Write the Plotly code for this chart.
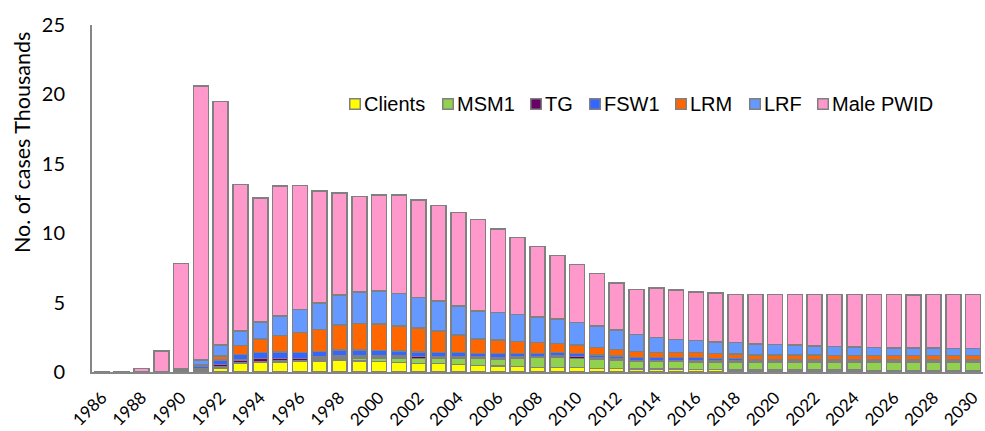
import plotly.graph_objects as go

years = list(range(1986, 2031))

clients = [0, 0, 0, 0, 0.02, 0.1, 0.3, 0.6, 0.72, 0.72,
           0.74, 0.8, 0.85, 0.8, 0.75, 0.7, 0.62, 0.62, 0.55, 0.48,
           0.45, 0.38, 0.34, 0.34, 0.31, 0.26, 0.24, 0.22, 0.22, 0.2,
           0.19, 0.17, 0.15, 0.15, 0.14, 0.14, 0.13, 0.13, 0.13, 0.12,
           0.12, 0.12, 0.12, 0.12, 0.12]
msm1 = [0, 0, 0, 0, 0.01, 0.05, 0.05, 0.05, 0.05, 0.06,
        0.1, 0.12, 0.15, 0.2, 0.25, 0.3, 0.35, 0.35, 0.45, 0.5,
        0.5, 0.6, 0.69, 0.69, 0.67, 0.67, 0.62, 0.52, 0.52, 0.54,
        0.51, 0.53, 0.55, 0.55, 0.56, 0.56, 0.57, 0.54, 0.54, 0.55,
        0.55, 0.55, 0.55, 0.55, 0.55]
tg = [0, 0, 0, 0, 0.01, 0.05, 0.2, 0.2, 0.2, 0.2,
      0.15, 0.15, 0.15, 0.15, 0.15, 0.15, 0.15, 0.12, 0.1, 0.1,
      0.1, 0.1, 0.1, 0.12, 0.12, 0.1, 0.1, 0.1, 0.1, 0.1,
      0.1, 0.1, 0.1, 0.08, 0.08, 0.08, 0.08, 0.08, 0.08, 0.08,
      0.08, 0.08, 0.08, 0.08, 0.08]
fsw1 = [0, 0, 0, 0, 0.05, 0.2, 0.3, 0.4, 0.45, 0.45,
        0.4, 0.4, 0.45, 0.45, 0.4, 0.35, 0.33, 0.33, 0.29, 0.26,
        0.3, 0.26, 0.21, 0.24, 0.24, 0.19, 0.19, 0.19, 0.19, 0.19,
        0.23, 0.18, 0.18, 0.13, 0.13, 0.13, 0.13, 0.11, 0.11, 0.11,
        0.11, 0.11, 0.11, 0.11, 0.11]
lrm = [0, 0, 0, 0, 0.05, 0.1, 0.3, 0.65, 0.95, 1.2,
       1.45, 1.6, 1.8, 1.9, 1.9, 1.8, 1.73, 1.53, 1.27, 1.03,
       0.95, 0.84, 0.77, 0.67, 0.6, 0.56, 0.48, 0.43, 0.39, 0.36,
       0.37, 0.35, 0.33, 0.33, 0.33, 0.33, 0.33, 0.33, 0.33, 0.33,
       0.33, 0.33, 0.33, 0.33, 0.33]
lrf = [0, 0, 0, 0, 0.1, 0.35, 0.8, 1.05, 1.25, 1.42,
       1.65, 1.9, 2.15, 2.25, 2.4, 2.35, 2.18, 2.18, 2.11, 2.02,
       2.0, 1.97, 1.87, 1.75, 1.63, 1.55, 1.39, 1.25, 1.08, 0.96,
       0.88, 0.84, 0.8, 0.79, 0.74, 0.69, 0.65, 0.65, 0.6, 0.56,
       0.55, 0.55, 0.55, 0.5, 0.5]
male_pwid = [0.03, 0.03, 0.25, 1.5, 7.56, 19.75, 17.55, 10.55, 8.93, 9.35,
             8.96, 8.08, 7.35, 6.9, 6.9, 7.1, 7.04, 6.87, 6.73, 6.61,
             6.0, 5.55, 5.07, 4.59, 4.18, 3.77, 3.38, 3.24, 3.55, 3.55,
             3.47, 3.53, 3.49, 3.57, 3.62, 3.67, 3.71, 3.76, 3.81, 3.85,
             3.86, 3.81, 3.86, 3.91, 3.91]

names = ["Clients", "MSM1", "TG", "FSW1", "LRM", "LRF", "Male PWID"]
values = [clients, msm1, tg, fsw1, lrm, lrf, male_pwid]
colors = ["#FFFF00", "#92D050", "#660066", "#3366FF", "#FF6600", "#6699FF", "#FF99CC"]

W, H = 985, 431
L, R, T, B = 92, 2, 25, 59
PW, PH = W - L - R, H - T - B


def px_x(x):
    return (x - L) / PW


def px_y(y):
    return (H - B - y) / PH


fig = go.Figure()
for name, vals, color in zip(names, values, colors):
    fig.add_trace(go.Bar(x=years, y=vals, name=name, showlegend=False,
                         marker=dict(color=color, line=dict(color="#808080", width=1.5))))

# legend drawn as annotations (Excel-style compact spacing)
legend_x = [349, 442, 530, 589, 675, 749, 817]
legend_y = 104
annotations = []
for name, color, lx in zip(names, colors, legend_x):
    annotations.append(dict(text="", showarrow=False, xref="paper", yref="paper",
                            x=px_x(lx), y=px_y(legend_y), xanchor="left", yanchor="middle",
                            width=9, height=9, bgcolor=color, bordercolor="#808080",
                            borderwidth=1.5, borderpad=0))
    annotations.append(dict(text=name, showarrow=False, xref="paper", yref="paper",
                            x=px_x(lx + 13), y=px_y(legend_y), xanchor="left", yanchor="middle",
                            font=dict(family="Liberation Sans", size=20, color="black")))

annotations.append(dict(text="No. of cases Thousands", textangle=-90, showarrow=False,
                        xref="paper", yref="paper", x=px_x(22), y=px_y(143),
                        xanchor="center", yanchor="middle",
                        font=dict(family="Lato", size=21.5, color="black")))

fig.update_layout(
    width=W, height=H,
    barmode="stack", bargap=0.24,
    plot_bgcolor="white", paper_bgcolor="white",
    margin=dict(l=L, r=R, t=T, b=B, autoexpand=False),
    showlegend=False,
    xaxis=dict(range=[1985.5, 2030.5], tickmode="linear", tick0=1986, dtick=2,
               tickangle=-45, showline=True, linecolor="#868686", linewidth=2,
               showgrid=False, ticks="", automargin=False, ticklabelstandoff=7,
               tickfont=dict(family="Lato", size=17, color="black")),
    yaxis=dict(range=[0, 25], dtick=5, showline=True, linecolor="#868686", linewidth=2,
               showgrid=False, zeroline=False, ticks="", ticklabelstandoff=21,
               automargin=False, tickfont=dict(family="Lato", size=20, color="black")),
    annotations=annotations,
)

fig.write_html("out.html", config={"displayModeBar": False},
               post_script="document.body.style.margin='0px';")
